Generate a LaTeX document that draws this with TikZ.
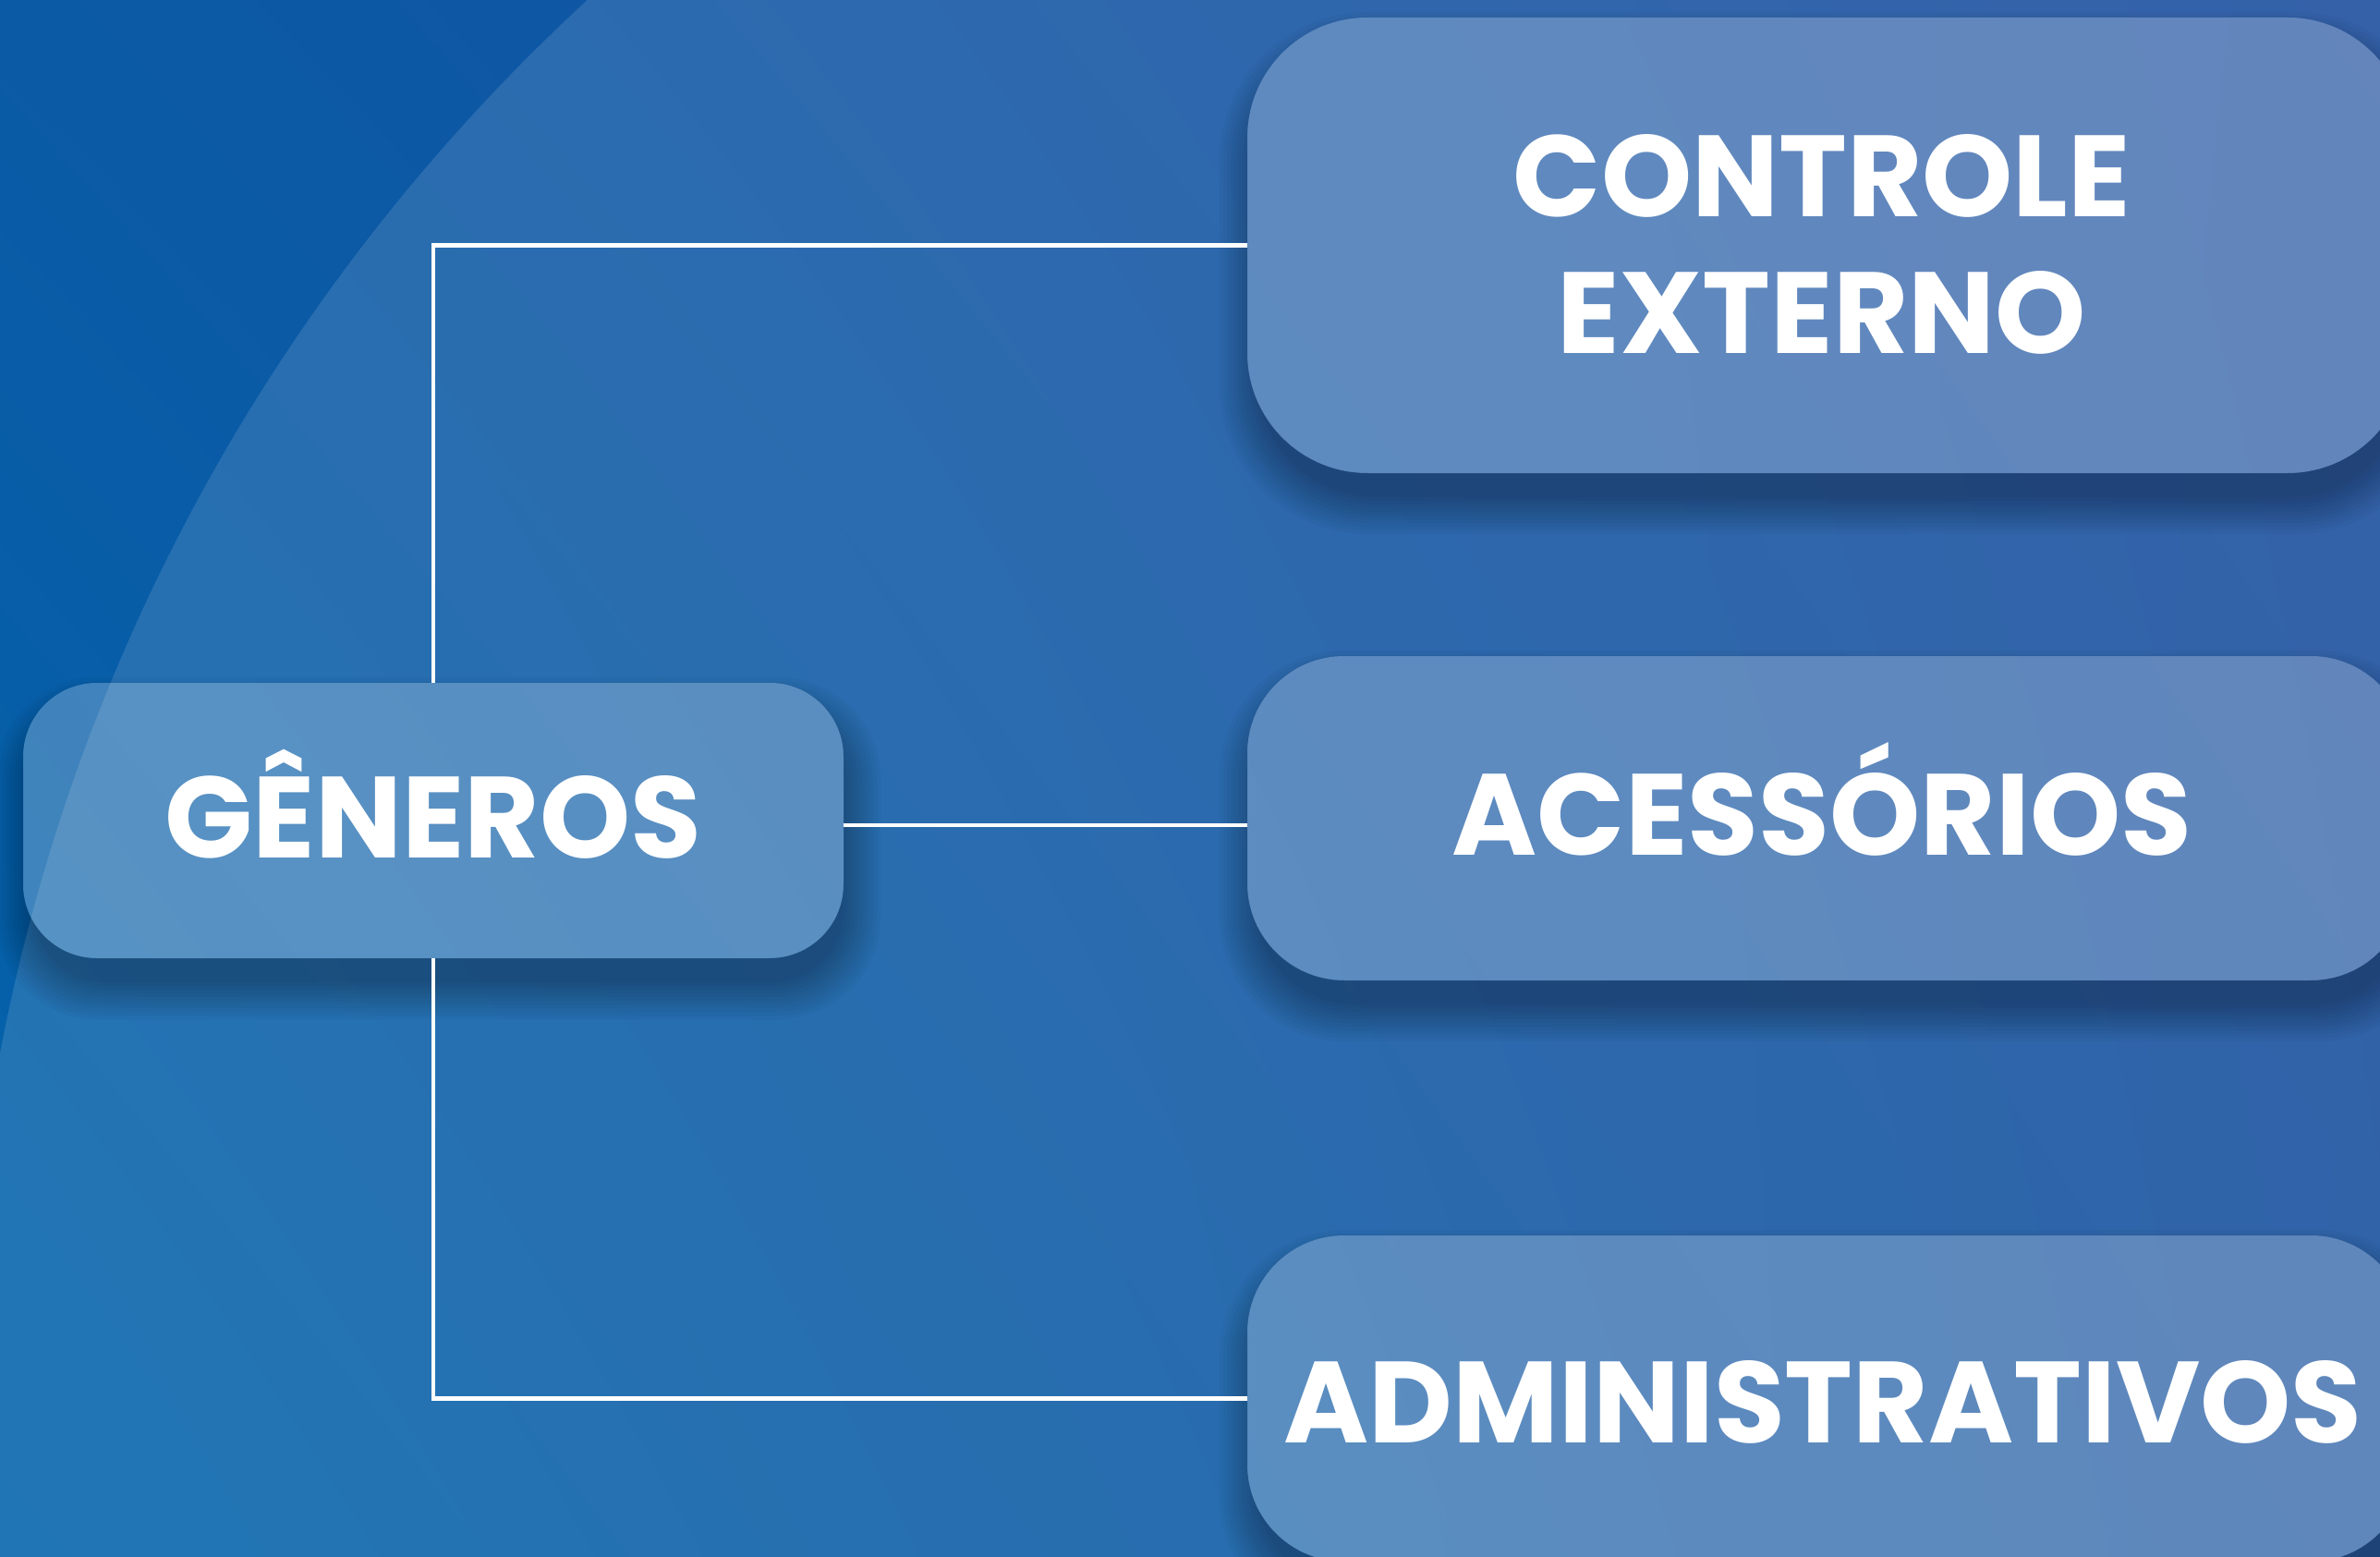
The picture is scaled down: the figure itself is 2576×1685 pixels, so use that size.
\documentclass[tikz,border=0pt]{standalone}
\usepackage{fontspec}
\setmainfont{Poppins}
\usetikzlibrary{calc,shadings}
\definecolor{bgUL}{HTML}{0B5AA6}
\definecolor{bgUR}{HTML}{1A4C9E}
\definecolor{bgLL}{HTML}{0264AB}
\definecolor{bgLR}{HTML}{134E9D}
\tikzset{
  card/.style={rectangle, fill=white, fill opacity=0.23, inner sep=0pt, draw=none},
  lbl/.style={text=white, font=\fontsize{125}{150}\selectfont\bfseries, inner sep=0pt, anchor=base},
  link/.style={draw=white, line width=4.5pt},
}
\newcommand\cardshadow[5]{%
  \begin{scope}
    \clip (-20,-20) rectangle (2700,1800) [rounded corners=#5] (#3,#2) rectangle (#1,#4);
    \foreach \k in {0,...,10}{
      \fill[black, opacity=0.028, rounded corners={#5+3*\k}]
        (#1-4*\k+10, #2-4*\k+34) rectangle (#3+4*\k, #4+4*\k+26);
    }
  \end{scope}}
\begin{document}
\begin{tikzpicture}[x=1pt, y=-1pt]
  \useasboundingbox (0,0) rectangle (2576,1685);
  \clip (0,0) rectangle (2576,1685);
  % background
  \shade[upper left=bgUL, upper right=bgUR, lower left=bgLL, lower right=bgLR] (0,0) rectangle (2576,1685);
  \fill[white, opacity=0.12] (2046,1533) circle[radius=2083pt];
  % shadows
  \cardshadow{25}{739}{913}{1037}{80}
  \cardshadow{1350}{19}{2606}{512}{130}
  \cardshadow{1350}{710}{2606}{1061}{105}
  \cardshadow{1350}{1337}{2606}{1690}{105}
  % cards
  \node[card, rounded corners=80pt, minimum width=888pt, minimum height=298pt] (gen) at (469,888) {};
  \node[card, rounded corners=130pt, minimum width=1256pt, minimum height=493pt] (ctrl) at (1978,265.5) {};
  \node[card, rounded corners=105pt, minimum width=1256pt, minimum height=351pt] (aces) at (1978,885.5) {};
  \node[card, rounded corners=105pt, minimum width=1256pt, minimum height=353pt] (adm) at (1978,1513.5) {};
  % connectors
  \coordinate (genmid) at (913,893);
  \draw[link] (gen.north) |- (ctrl.west);
  \draw[link] (genmid) -- (genmid -| aces.west);
  \draw[link] (gen.south) |- (adm.west);
  % labels
  \node[lbl] (tgen) at (469,928) {GÊNEROS};
  \node[lbl] (tctrl1) at (1972,235) {CONTROLE};
  \node[lbl] (tctrl2) at (1972,383) {EXTERNO};
  \node[lbl] (taces) at (1972,925) {ACESSÓRIOS};
  \node[lbl] (tadm) at (1973,1561) {ADMINISTRATIVOS};
\end{tikzpicture}
\end{document}
